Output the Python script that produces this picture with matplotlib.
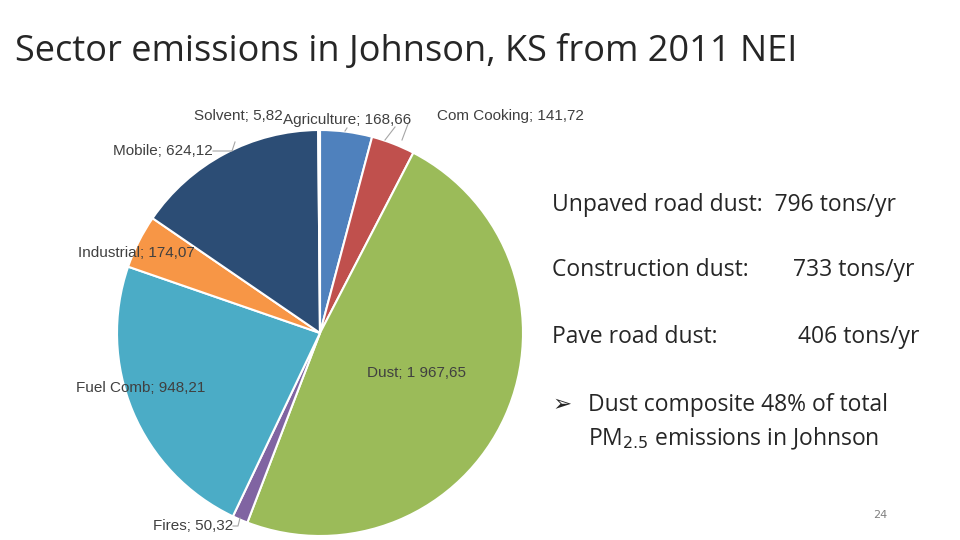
import matplotlib
matplotlib.use("Agg")
import matplotlib.pyplot as plt
import numpy as np

sectors = ["Agriculture", "Com Cooking", "Dust", "Fires", "Fuel Comb", "Industrial", "Mobile", "Solvent"]
values = [168.66, 141.72, 1967.65, 50.32, 948.21, 174.07, 624.12, 5.82]
value_labels = ["168,66", "141,72", "1 967,65", "50,32", "948,21", "174,07", "624,12", "5,82"]
colors = ["#4f81bd", "#c0504d", "#9bbb59", "#8064a2", "#4bacc6", "#f79646", "#2c4d75", "#772c2a"]

W, H = 960, 540
fig = plt.figure(figsize=(9.6, 5.4), dpi=100)
cx, cy, r = 320, 333, 203
ax = fig.add_axes([(cx - r) / W, (H - cy - r) / H, 2 * r / W, 2 * r / H])
ax.pie(values, colors=colors, startangle=90, counterclock=False, radius=1,
       wedgeprops=dict(edgecolor="white", linewidth=1.5))
ax.set_xlim(-1, 1); ax.set_ylim(-1, 1)
ax.set_aspect("equal")

def P(px, py):
    return ((px - cx) / r, (cy - py) / r)

lf = dict(family="Liberation Sans", fontsize=11, color="#404040")
def lab(i, px, py, ha="left"):
    ax.text(*P(px, py), f"{sectors[i]}; {value_labels[i]}", ha=ha, va="center", clip_on=False, **lf)

lab(7, 283, 116, "right")
lab(0, 283, 120)
lab(1, 437, 116)
lab(6, 213, 151, "right")
lab(5, 195, 253, "right")
lab(4, 205, 388, "right")
lab(3, 233, 526, "right")
lab(2, 367, 373)

def line(pts):
    xs, ys = zip(*[P(a, b) for a, b in pts])
    ax.plot(xs, ys, color="#a6a6a6", lw=0.8, clip_on=False)

line([(213, 151), (232, 151), (235, 142)])
line([(233, 526), (238, 526), (240, 518)])
line([(395, 127), (385, 140)])
line([(408, 124), (402, 140)])
line([(347, 128), (345, 131)])

fig.text(15 / W, 1 - 52 / H, "Sector emissions in Johnson, KS from 2011 NEI",
         fontsize=26, family="Open Sans", color="#262626", va="center")
tf = dict(fontsize=16.5, family="Open Sans", color="#262626", va="center")
fig.text(552 / W, 1 - 205 / H, "Unpaved road dust:  796 tons/yr", **tf)
fig.text(552 / W, 1 - 270 / H, "Construction dust:", **tf)
fig.text(793 / W, 1 - 270 / H, "733 tons/yr", **tf)
fig.text(552 / W, 1 - 337 / H, "Pave road dust:", **tf)
fig.text(798 / W, 1 - 337 / H, "406 tons/yr", **tf)
fig.text(552 / W, 1 - 405 / H, "\u27a2", fontsize=16.5, family="DejaVu Sans", color="#262626", va="center")
fig.text(588 / W, 1 - 405 / H, "Dust composite 48% of total", **tf)
fig.text(588 / W, 1 - 439 / H, "PM$_{2.5}$ emissions in Johnson", **tf)
fig.text(880 / W, 1 - 515 / H, "24", fontsize=8, color="#808080", ha="center", va="center")

fig.savefig("out.png", dpi=100)
